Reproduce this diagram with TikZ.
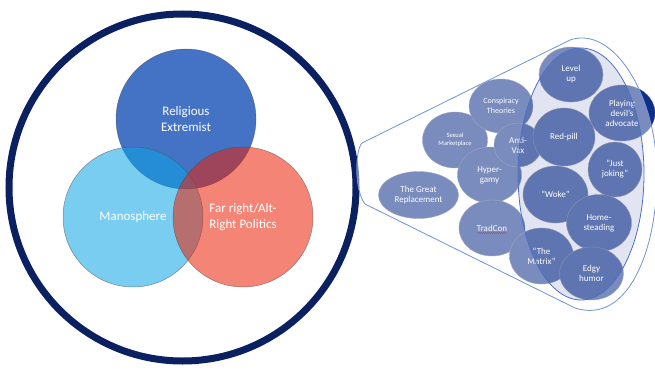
\documentclass[tikz,border=0pt]{standalone}
\usepackage{fontspec}
\setmainfont{Carlito}
\usetikzlibrary{shapes.geometric,decorations.pathmorphing}
\definecolor{navy}{RGB}{11,32,96}
\definecolor{relig}{RGB}{68,114,196}
\definecolor{mano}{RGB}{10,164,228}
\definecolor{farr}{RGB}{235,33,6}
\definecolor{bubfill}{RGB}{13,46,137}
\definecolor{bubline}{RGB}{80,92,130}
\definecolor{facebase}{RGB}{211,216,235}
\definecolor{coneline}{RGB}{112,146,214}
\definecolor{faceline}{RGB}{72,110,200}
\begin{document}
\begin{tikzpicture}[x=1pt,y=-1pt,
  venn/.style={circle, inner sep=0pt, minimum size=140pt, draw=black!70, draw opacity=0.6,
    line width=0.5pt, text=white, text opacity=1, font=\fontsize{13}{16}\selectfont, align=center},
  bub/.style={ellipse, inner sep=0pt, fill=bubfill, draw=bubline, line width=0.4pt,
    text=white, font=\fontsize{9}{10}\selectfont, align=center},
  ringstyle/.style={circle, draw=navy, line width=7pt, inner sep=0pt, minimum size=347pt},
]
\useasboundingbox (0,0) rectangle (655,369);

% outer ring
\node[ringstyle] (ring) at (182.5,187.5) {};

% Venn diagram
\node[venn, fill=relig] (relig) at (186,119) {Religious\\Extremist};
\node[venn, fill=mano, fill opacity=0.55] (mano) at (133,217) {Manosphere};
\node[venn, fill=farr, fill opacity=0.55] (farr) at (243,217) {Far right/Alt-\\Right Politics};

% base of the cone's end face
\fill[facebase] (581,174) ellipse[x radius=63pt, y radius=126pt];

% bubbles
\node[bub, minimum width=65pt, minimum height=56pt, font=\fontsize{6.5}{8}\selectfont] (sexm) at (455,140) {Sexual\\Marketplace};
\node[bub, minimum width=64pt, minimum height=54pt, font=\fontsize{8}{9.5}\selectfont] (consp) at (501,106) {Conspiracy\\Theories};
\node[bub, minimum width=64pt, minimum height=56pt] (hyper) at (489.5,175) {Hyper-\\gamy};
\node[bub, minimum width=48pt, minimum height=44pt] (antivax) at (518,145) {Anti-\\Vax};
\node[bub, minimum width=62pt, minimum height=58pt] (redpill) at (564,137) {Red-pill};
\node[bub, minimum width=80pt, minimum height=47pt] (great) at (418.5,195) {The Great\\Replacement};
\node[bub, minimum width=66pt, minimum height=56pt] (tradcon) at (492,228) {TradCon};
\node[bub, minimum width=64pt, minimum height=55pt] (levelup) at (571,74.5) {Level\\up};
\node[bub, minimum width=66pt, minimum height=56pt] (devil) at (622,113) {Playing\\devil’s\\advocate};
\node[bub, minimum width=54pt, minimum height=55pt] (joking) at (615,169.5) {“Just\\joking”};
\node[bub, minimum width=65pt, minimum height=57pt] (woke) at (555.5,194.5) {“Woke”};
\node[bub, minimum width=65pt, minimum height=57pt] (home) at (599,223) {Home-\\steading};
\node[bub, minimum width=64pt, minimum height=56pt] (matrix) at (541.5,256) {“The\\Matrix”};
\node[bub, minimum width=64pt, minimum height=53pt] (edgy) at (591.5,273.5) {Edgy\\humor};

% translucent cone overlay
\fill[white, fill opacity=0.45, even odd rule]
  (362,143) -- (570,40) .. controls (613,25) and (657,95) .. (657,175)
  .. controls (657,250) and (628,325) .. (575,308) -- (365,204)
  .. controls (354,190) and (355,150) .. (362,143) -- cycle
  (581,174) ellipse[x radius=63pt, y radius=126pt];
\fill[white, fill opacity=0.34] (581,174) ellipse[x radius=63pt, y radius=126pt];
\draw[coneline, line width=0.8pt]
  (362,143) -- (570,40) .. controls (613,25) and (657,95) .. (657,175)
  .. controls (657,250) and (628,325) .. (575,308) -- (365,204)
  .. controls (354,190) and (355,150) .. (362,143) -- cycle;
\draw[faceline, line width=0.8pt] (581,174) ellipse[x radius=63pt, y radius=126pt];

% spell-check underline
\draw[red!85, line width=0.5pt, decorate, decoration={snake, amplitude=0.5pt, segment length=2pt}]
  ([xshift=-15pt,yshift=-5pt]tradcon.center) -- ([xshift=15pt,yshift=-5pt]tradcon.center);
\end{tikzpicture}
\end{document}
